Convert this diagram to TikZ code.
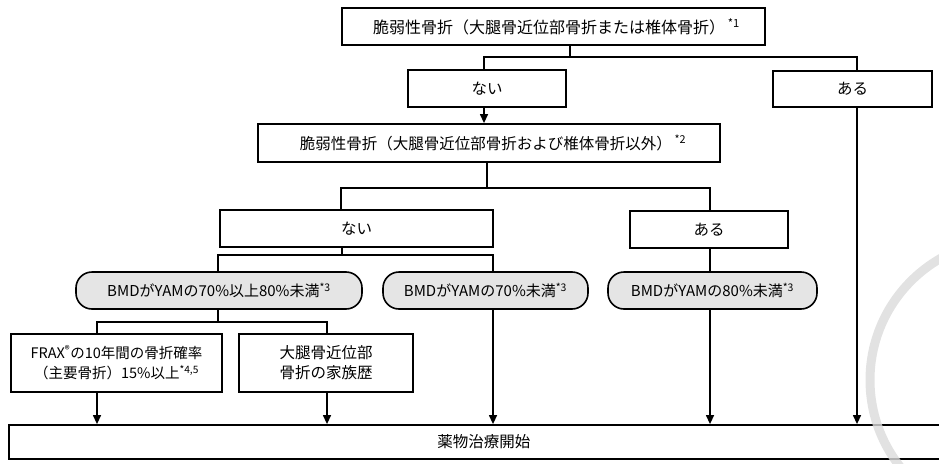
\documentclass[tikz,border=0pt]{standalone}
\usepackage{fontspec}
\setmainfont{Noto Sans CJK JP}
\usetikzlibrary{arrows.meta}
\begin{document}
\begin{tikzpicture}[x=1pt,y=-1pt,
  box/.style={draw, line width=1.8pt, fill=white, inner sep=0pt, align=center, font=\fontsize{15.5}{20}\selectfont},
  pill/.style={draw, line width=1.6pt, rounded corners=16pt, fill=black!10, inner sep=0pt, font=\fontsize{15}{18}\selectfont},
  link/.style={line width=1.3pt},
  arr/.style={line width=1.3pt, -{Triangle[length=9pt,width=8pt]}},
  wmark/.style={line width=9pt, black!14, opacity=0.8}
]
\useasboundingbox (0,0) rectangle (939,463);

% nodes
\node[box, minimum width=423pt, minimum height=37pt, font=\fontsize{16}{20}\selectfont] (b1) at (553.5,26.5) {\hspace*{6pt}脆弱性骨折（大腿骨近位部骨折または椎体骨折）\,\textsuperscript{*1}};
\node[box, minimum width=158pt, minimum height=37pt] (nai1) at (487,88.5) {ない};
\node[box, minimum width=159pt, minimum height=36pt] (aru1) at (852.5,89) {ある};
\node[box, minimum width=462pt, minimum height=38pt] (b2) at (489,143) {\hspace*{8pt}脆弱性骨折（大腿骨近位部骨折および椎体骨折以外）\,\textsuperscript{*2}};
\node[box, minimum width=273pt, minimum height=37pt] (nai2) at (356.5,228.5) {ない};
\node[box, minimum width=158pt, minimum height=37pt] (aru2) at (709,229.5) {ある};
\node[pill, minimum width=286pt, minimum height=37pt] (o1) at (219,290.5) {BMDがYAMの70\%以上80\%未満\textsuperscript{*3}};
\node[pill, minimum width=205pt, minimum height=37pt] (o2) at (485.5,290.5) {BMDがYAMの70\%未満\textsuperscript{*3}};
\node[pill, minimum width=209pt, minimum height=37pt] (o3) at (712.5,290.5) {BMDがYAMの80\%未満\textsuperscript{*3}};
\node[box, minimum width=211pt, minimum height=58pt, font=\fontsize{14.5}{20}\selectfont] (frax) at (116.5,363) {FRAX\textsuperscript{®}の10年間の骨折確率\\（主要骨折）15\%以上\textsuperscript{*4,5}};
\node[box, minimum width=174pt, minimum height=58pt] (fam) at (326,363) {大腿骨近位部\\骨折の家族歴};
\node[box, minimum width=950pt, minimum height=34pt, anchor=west] (fin) at (8,442) {薬物治療開始};

% junction coordinates
\coordinate (h1m) at (570,57);
\coordinate (h1l) at (484,57);
\coordinate (h1r) at (857,57);
\coordinate (h2m) at (487,188);
\coordinate (h2l) at (341,188);
\coordinate (h2r) at (710,188);
\coordinate (h3m) at (342,255);
\coordinate (h3l) at (218,255);
\coordinate (h3r) at (493,255);
\coordinate (v3) at (710,0);
\coordinate (h4m) at (218,322);
\coordinate (h4l) at (97,322);
\coordinate (h4r) at (327,322);

% connectors
\draw[link] (b1.south -| h1m) -- (h1m);
\draw[link] (nai1.north -| h1l) -- (h1l) -- (h1r) -- (aru1.north -| h1r);
\draw[arr] (nai1.south -| h1l) -- (b2.north -| h1l);
\draw[arr] (aru1.south -| h1r) -- (fin.north -| h1r);

\draw[link] (b2.south -| h2m) -- (h2m);
\draw[link] (nai2.north -| h2l) -- (h2l) -- (h2r) -- (aru2.north -| h2r);

\draw[link] (nai2.south -| h3m) -- (h3m);
\draw[link] (o1.north -| h3l) -- (h3l) -- (h3r) -- (o2.north -| h3r);
\draw[arr] (o2.south -| h3r) -- (fin.north -| h3r);

\draw[link] (aru2.south -| v3) -- (o3.north -| v3);
\draw[arr] (o3.south -| v3) -- (fin.north -| v3);

\draw[link] (o1.south -| h4m) -- (h4m);
\draw[link] (frax.north -| h4l) -- (h4l) -- (h4r) -- (fam.north -| h4r);
\draw[arr] (frax.south -| h4l) -- (fin.north -| h4l);
\draw[arr] (fam.south -| h4r) -- (fin.north -| h4r);

% faint watermark arc
\draw[wmark] (1010,380) circle (140pt);
\end{tikzpicture}
\end{document}
